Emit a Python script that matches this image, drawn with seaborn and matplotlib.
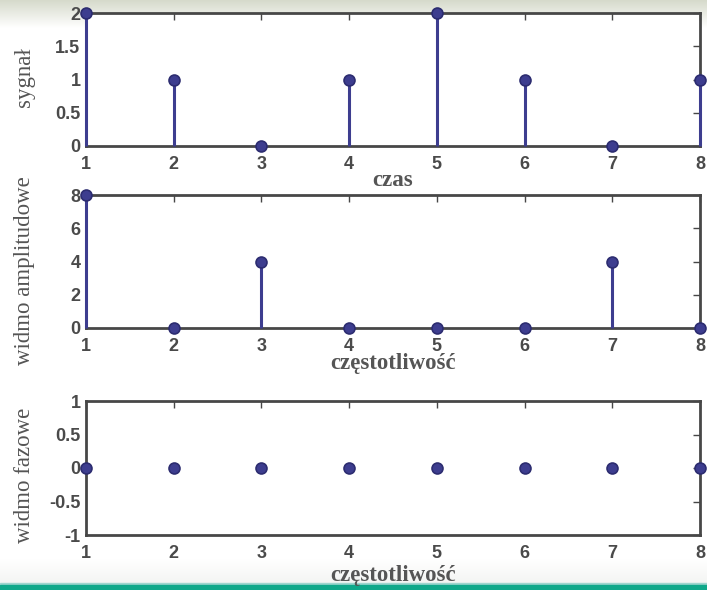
import numpy as np
import pandas as pd
import matplotlib
matplotlib.use("Agg")
import matplotlib.pyplot as plt
import seaborn as sns

# Data
n = [1, 2, 3, 4, 5, 6, 7, 8]
signal = [2, 1, 0, 1, 2, 1, 0, 1]
amplitude = [8, 0, 4, 0, 0, 0, 4, 0]
phase = [0, 0, 0, 0, 0, 0, 0, 0]

ylabels = ["sygnał", "widmo amplitudowe", "widmo fazowe"]
xlabels = ["czas", "częstotliwość", "częstotliwość"]
yticks = [[0, 0.5, 1, 1.5, 2], [0, 2, 4, 6, 8], [-1, -0.5, 0, 0.5, 1]]
yticklabels = [["0", "0.5", "1", "1.5", "2"], ["0", "2", "4", "6", "8"],
               ["-1", "-0.5", "0", "0.5", "1"]]
ylims = [(0, 2), (0, 8), (-1, 1)]

sns.set_style("white")
plt.rcParams["font.family"] = ["Liberation Sans", "DejaVu Sans"]

STEM = "#3d3d8f"
EDGE = "#2c2c70"
SPINE = "#474747"
TXT = "#4a4a4a"
LBL = "#555555"

fig = plt.figure(figsize=(7.07, 5.90), dpi=100)
fig.patch.set_facecolor("white")

# background decoration: grey band at top, teal bar at bottom
bg = fig.add_axes([0, 0, 1, 1], zorder=-10)
bg.set_xlim(0, 1); bg.set_ylim(0, 1); bg.axis("off")
grad = np.linspace(0, 1, 60).reshape(-1, 1)
top_cmap = matplotlib.colors.LinearSegmentedColormap.from_list("t", ["#d6dacb", "#ffffff"])
bg.imshow(grad, extent=[0, 1, 1 - 28 / 590, 1], aspect="auto", cmap=top_cmap, zorder=0)
bot_cmap = matplotlib.colors.LinearSegmentedColormap.from_list("b", ["#ffffff", "#f3f4f2"])
bg.imshow(grad, extent=[0, 1, 5 / 590, 30 / 590], aspect="auto", cmap=bot_cmap, zorder=0)
bg.add_patch(plt.Rectangle((0, 5 / 590), 1, 2 / 590, color="#9fd6cf", zorder=1))
bg.add_patch(plt.Rectangle((0, 0), 1, 5.5 / 590, color="#0fa88a", zorder=2))

left = 86 / 707
width = (700 - 86) / 707
tops = [13, 195, 401]
bottoms = [146, 328, 535]
ylab_y = [77, 271, 475]
xlab_y = [180, 364, 576]

series = [signal, amplitude, phase]
for i in range(3):
    b = 1 - bottoms[i] / 590
    h = (bottoms[i] - tops[i]) / 590
    ax = fig.add_axes([left, b, width, h])
    ax.set_facecolor("white")
    vals = series[i]
    df = pd.DataFrame({"n": n, "v": vals})
    ax.vlines(df["n"], 0, df["v"], color=STEM, lw=2.2, zorder=3, clip_on=False)
    sns.scatterplot(data=df, x="n", y="v", ax=ax, s=62, color=STEM,
                    edgecolor=EDGE, linewidth=1.2, zorder=4, clip_on=False,
                    legend=False)
    ax.set_xlim(1, 8)
    ax.set_ylim(*ylims[i])
    ax.set_xticks(n)
    ax.set_xticklabels([str(k) for k in n], fontsize=13, fontweight="bold", color=TXT)
    ax.set_yticks(yticks[i])
    ax.set_yticklabels(yticklabels[i], fontsize=13, fontweight="bold", color=TXT)
    ax.tick_params(direction="in", length=5, width=1, color=SPINE,
                   top=True, right=True)
    ax.tick_params(axis="x", pad=7)
    ax.tick_params(axis="y", pad=4)
    for s in ax.spines.values():
        s.set_color(SPINE)
        s.set_linewidth(2)
        s.set_zorder(2)
    ax.set_xlabel("")
    ax.set_ylabel("")
    fig.text(25 / 707, 1 - ylab_y[i] / 590,
             ylabels[i], rotation=90, ha="center", va="center",
             fontsize=16.5, color=LBL, family=["Liberation Serif", "DejaVu Serif"])
    fig.text((86 + 700) / 2 / 707, 1 - xlab_y[i] / 590, xlabels[i],
             ha="center", va="center", fontsize=16.5, fontweight="bold",
             color=LBL, family=["Liberation Serif", "DejaVu Serif"])

fig.savefig("out.png", dpi=100)
